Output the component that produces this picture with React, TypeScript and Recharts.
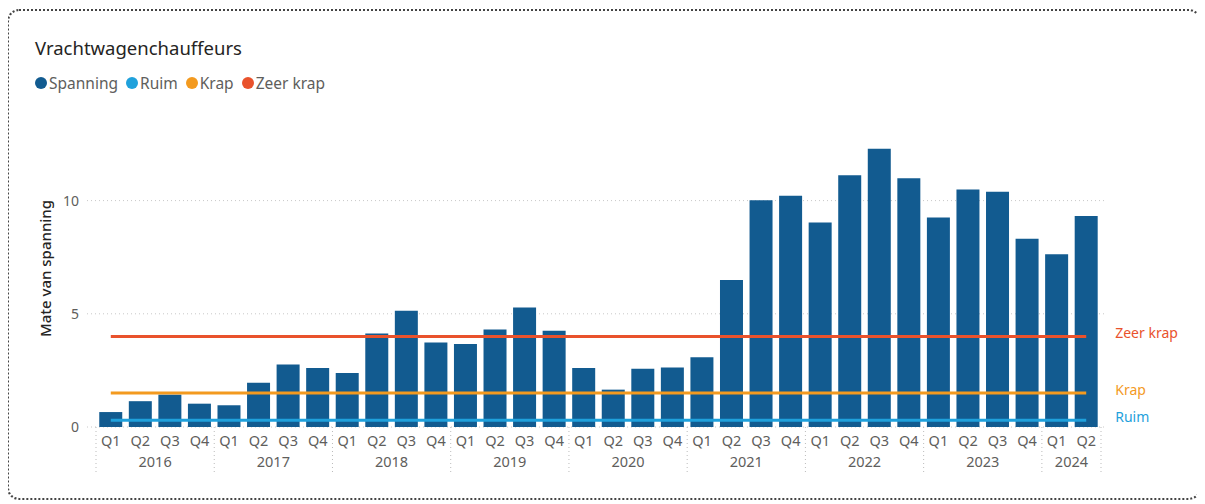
import React from 'react';
import { ComposedChart, Bar, Line, XAxis, YAxis, CartesianGrid } from 'recharts';

const quarters = ['Q1','Q2','Q3','Q4','Q1','Q2','Q3','Q4','Q1','Q2','Q3','Q4','Q1','Q2','Q3','Q4','Q1','Q2','Q3','Q4','Q1','Q2','Q3','Q4','Q1','Q2','Q3','Q4','Q1','Q2','Q3','Q4','Q1','Q2'];
const barYears = ['2016','2016','2016','2016','2017','2017','2017','2017','2018','2018','2018','2018','2019','2019','2019','2019','2020','2020','2020','2020','2021','2021','2021','2021','2022','2022','2022','2022','2023','2023','2023','2023','2024','2024'];
const spanning = [0.66,1.14,1.43,1.03, 0.96,1.95,2.76,2.61, 2.39,4.13,5.13,3.73, 3.67,4.31,5.28,4.25, 2.61,1.65,2.57,2.63, 3.08,6.49,10.02,10.21, 9.03,11.12,12.29,10.99, 9.25,10.49,10.39,8.32, 7.63,9.32];
const ruimLevel = 0.3;
const krapLevel = 1.5;
const zeerKrapLevel = 4;
const yTicks = [0, 5, 10];
const legendNames = ['Spanning', 'Ruim', 'Krap', 'Zeer krap'];

const C_BAR = '#125B90';
const C_RUIM = '#1FA1DC';
const C_KRAP = '#F39A1F';
const C_ZEER = '#E9522C';
const legendColors = [C_BAR, C_RUIM, C_KRAP, C_ZEER];
const FONT = '"Noto Sans", "Open Sans", sans-serif';

const data = spanning.map((v, i) => ({
  key: barYears[i] + '-' + quarters[i],
  quarter: quarters[i],
  year: barYears[i],
  spanning: v,
  ruim: ruimLevel,
  krap: krapLevel,
  zeerKrap: zeerKrapLevel,
}));

const XTick = (props: any) => {
  const { x, y, payload, index } = props;
  const half = payload && payload.offset ? payload.offset : 14.8;
  const i = typeof index === 'number' ? index : payload.index;
  const row = data[i];
  if (!row) return null;
  const yr = row.year;
  const idxs = data.map((d, j) => (d.year === yr ? j : -1)).filter((j) => j >= 0);
  const first = idxs[0];
  const n = idxs.length;
  const midIdx = first + Math.floor((n - 1) / 2);
  const yearX = x + (n % 2 === 0 ? half : 0);
  const top = y - 8;
  return (
    <g>
      <text x={x} y={y} dy={11} textAnchor="middle" fill="#605E5C" fontSize={14.5} fontFamily={FONT}>{row.quarter}</text>
      {i === first && (
        <line x1={x - half} x2={x - half} y1={top} y2={top + 46} stroke="#BBB" strokeDasharray="1 3" />
      )}
      {i === data.length - 1 && (
        <line x1={x + half} x2={x + half} y1={top} y2={top + 46} stroke="#BBB" strokeDasharray="1 3" />
      )}
      {i === midIdx && (
        <text x={yearX} y={y} dy={32} textAnchor="middle" fill="#605E5C" fontSize={14.5} fontFamily={FONT}>{yr}</text>
      )}
    </g>
  );
};

const endLabel = (text: string, color: string) => (props: any) => {
  const { x, y, index } = props;
  if (index !== data.length - 1) return null;
  return (
    <text x={x + 29} y={y} dy={2} fill={color} fontSize={14} fontFamily={FONT}>{text}</text>
  );
};

const YTitle = (props: any) => {
  const vb = props.viewBox || {};
  const cx = 45;
  const cy = (vb.y || 144) + (vb.height || 283) * 0.44;
  return (
    <text x={cx} y={cy} transform={`rotate(-90, ${cx}, ${cy})`} textAnchor="middle" dominantBaseline="central" fill="#252423" fontSize={15} fontWeight={500} fontFamily={FONT}>Mate van spanning</text>
  );
};

export default function App() {
  return (
    <div style={{ position: 'relative', width: 1205, height: 504, marginLeft: -8, marginTop: -8, background: '#fff' }}>
      <div style={{ position: 'absolute', left: 7, top: 9, width: 1190, height: 487, border: '2px dotted #444', borderRadius: 12 }} />
      <div style={{ position: 'absolute', left: 35, top: 35, fontFamily: FONT, fontSize: 18.5, color: '#252423' }}>Vrachtwagenchauffeurs</div>
      <div style={{ position: 'absolute', left: 35, top: 72, display: 'flex', alignItems: 'center', fontFamily: FONT, fontSize: 15.5, color: '#605E5C' }}>
        {legendNames.map((name, i) => (
          <div key={name} style={{ display: 'flex', alignItems: 'center', marginRight: 8 }}>
            <span style={{ width: 12, height: 12, borderRadius: '50%', background: legendColors[i], display: 'inline-block', marginRight: 2 }} />
            <span>{name}</span>
          </div>
        ))}
      </div>
      <div style={{ position: 'absolute', left: 0, top: 0 }}>
        <ComposedChart width={1205} height={504} data={data} margin={{ top: 144, right: 100, bottom: 27, left: 30 }} barCategoryGap="11%">
          <CartesianGrid vertical={false} stroke="#C8C8C8" strokeDasharray="1 3" horizontalValues={yTicks} />
          <XAxis dataKey="key" interval={0} tickLine={false} axisLine={false} height={50} tick={<XTick />} padding={{ left: 9, right: 4 }} />
          <YAxis domain={[0, 12.5]} ticks={yTicks} tickLine={false} axisLine={false} width={57} tick={{ fill: '#605E5C', fontSize: 14, fontFamily: FONT }}
            label={<YTitle />} />
          <Bar dataKey="spanning" name="Spanning" fill={C_BAR} isAnimationActive={false} />
          <Line dataKey="ruim" name="Ruim" stroke={C_RUIM} strokeWidth={3} dot={false} activeDot={false} isAnimationActive={false} label={endLabel('Ruim', C_RUIM)} />
          <Line dataKey="krap" name="Krap" stroke={C_KRAP} strokeWidth={3} dot={false} activeDot={false} isAnimationActive={false} label={endLabel('Krap', C_KRAP)} />
          <Line dataKey="zeerKrap" name="Zeer krap" stroke={C_ZEER} strokeWidth={3} dot={false} activeDot={false} isAnimationActive={false} label={endLabel('Zeer krap', C_ZEER)} />
        </ComposedChart>
      </div>
    </div>
  );
}
